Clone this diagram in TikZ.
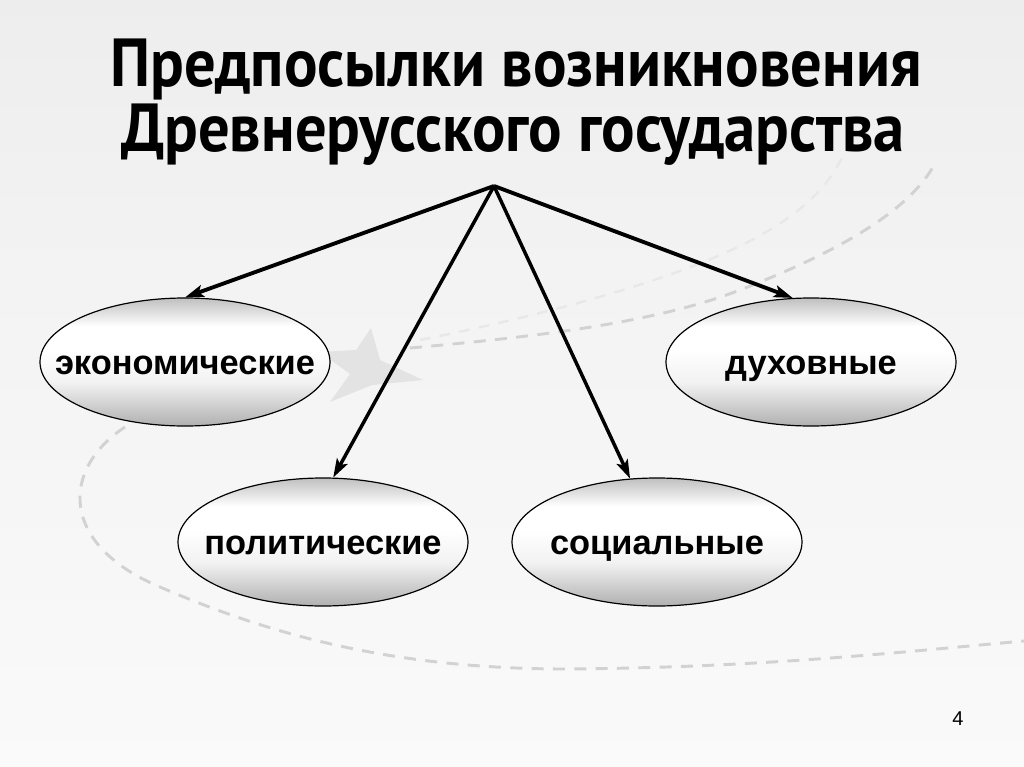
\documentclass[tikz,border=0pt]{standalone}
\usepackage{fontspec}
\usepackage{graphicx}
\usetikzlibrary{shapes.geometric,arrows.meta}
\setmainfont{Liberation Sans}
\newfontfamily\titlefont{PT Sans}
\pgfdeclareverticalshading{ellshade}{100bp}{color(0bp)=(gray!62); color(25bp)=(gray!62); color(42bp)=(gray!10); color(55bp)=(white); color(64bp)=(white); color(75bp)=(gray!50); color(100bp)=(gray!50)}
\pgfdeclareverticalshading{bgshade}{100bp}{color(0bp)=(black!2); color(25bp)=(black!2); color(60bp)=(black!5); color(75bp)=(black!7); color(100bp)=(black!7)}
\newcommand{\ovtext}[1]{\makebox[0pt]{#1}}
\tikzset{
  oval/.style={ellipse, draw=black, line width=0.9pt, shading=ellshade,
    minimum width=217.5pt, minimum height=96pt, inner sep=0pt,
    text height=18.5pt, text depth=0pt,
    font=\fontsize{25.8}{29}\selectfont\bfseries},
  conn/.style={line width=2.9pt, -{Stealth[length=14pt,width=9pt,inset=3pt]}},
  connthin/.style={line width=2.6pt, -{Stealth[length=14pt,width=9pt,inset=3pt]}},
  deco/.style={draw=gray!35, line width=2.2pt, dash pattern=on 9pt off 7pt},
  decofaint/.style={draw=gray!18, line width=1.8pt, dash pattern=on 8pt off 7pt},
  ttl/.style={anchor=base, inner sep=0pt, font=\titlefont\fontsize{51}{56}\selectfont\bfseries},
}
\begin{document}
\begin{tikzpicture}[x=0.75pt, y=-0.75pt]
\useasboundingbox (0,0) rectangle (1024,767);
\path[shading=bgshade] (0,0) rectangle (1024,767);
% background decorations
\draw[deco] (125,427) .. controls (60,470) and (60,545) .. (160,587)
  .. controls (260,630) and (380,668) .. (560,669)
  .. controls (760,668) and (900,652) .. (1024,641);
\draw[deco] (410,348) .. controls (520,338) and (650,325) .. (740,290)
  .. controls (830,255) and (905,215) .. (933,167);
\draw[decofaint] (420,340) .. controls (520,320) and (640,290) .. (720,255)
  .. controls (790,225) and (830,190) .. (845,150);
\fill[gray!22] (371,328) -- (380,360) -- (423,380) -- (372,385) -- (330,402) -- (350,374) -- (320,352) -- (356,350) -- cycle;
% title
\node[ttl] (t1) at (516,86) {\scalebox{0.92}[1]{Предпосылки возникновения}};
\node[ttl] (t2) at (513,151) {\scalebox{0.92}[1]{Древнерусского государства}};
% ovals
\node[oval] (e) at (185,362) {\ovtext{экономические}};
\node[oval] (d) at (811,362) {\ovtext{духовные}};
\node[oval] (p) at (323,542) {\ovtext{политические}};
\node[oval] (s) at (657,542) {\ovtext{социальные}};
\coordinate (o) at (494,186);
\draw[conn] (o) -- (e.north);
\draw[conn] (o) -- (d.106);
\draw[connthin] (o) -- (p.81);
\draw[connthin] (o) -- (s.113);
\node[font=\fontsize{15}{18}\selectfont] (num) at (958,719) {4};
\end{tikzpicture}
\end{document}
